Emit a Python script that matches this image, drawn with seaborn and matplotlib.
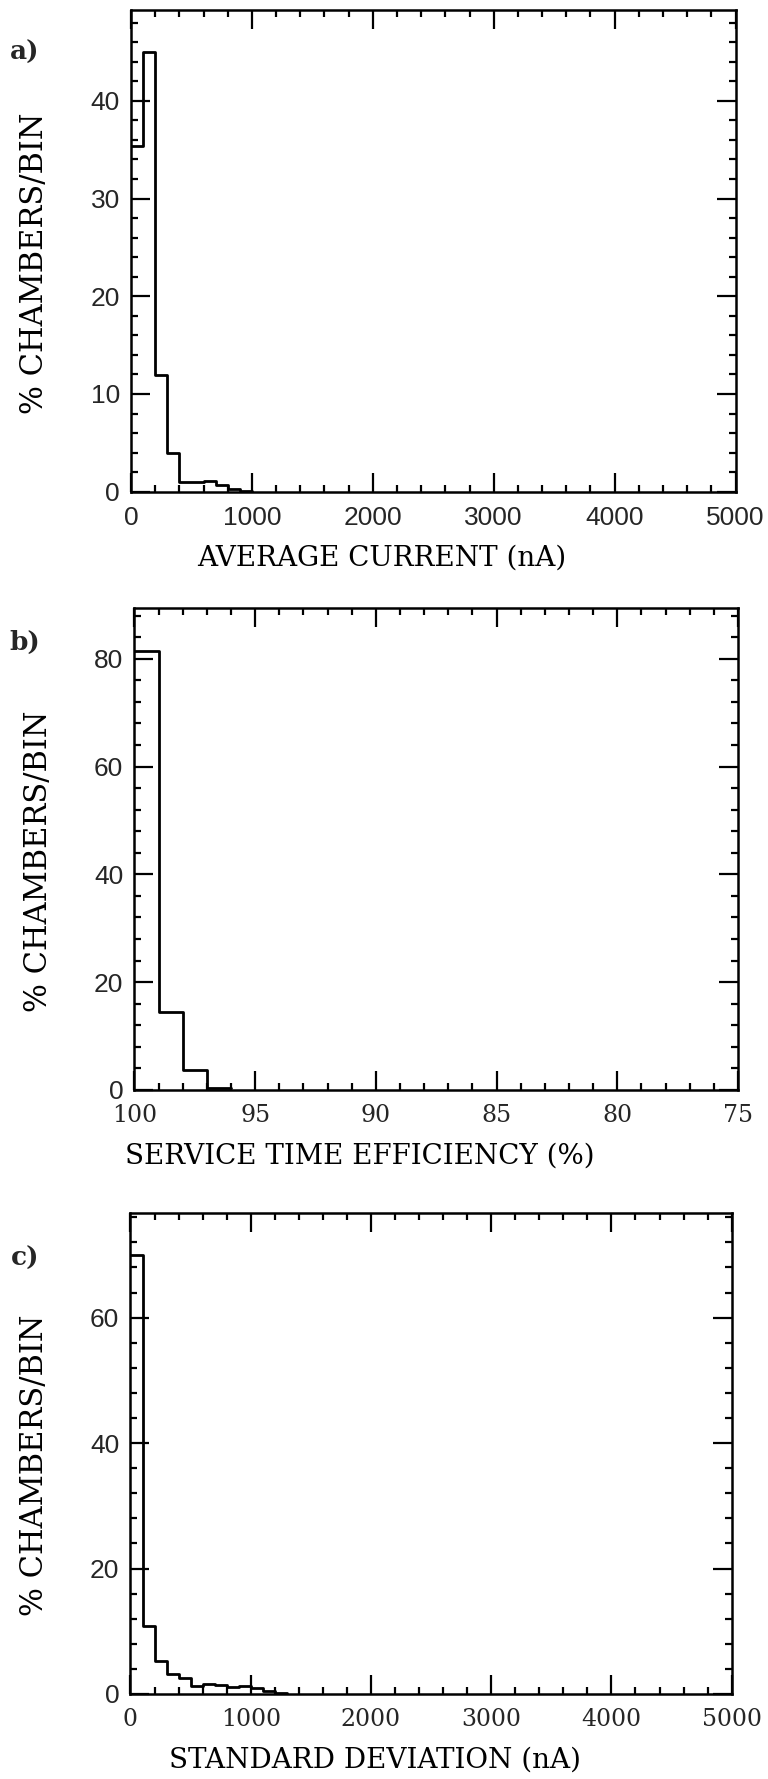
import numpy as np
import matplotlib
matplotlib.use("Agg")
import matplotlib.pyplot as plt
from matplotlib.ticker import MultipleLocator
import seaborn as sns

# a) average current per chamber, 100 nA bins
current_edges = [0, 100, 200, 300, 400, 500, 600, 700, 800, 900, 1000]
current_pct = [35.4, 45.0, 11.9, 4.0, 0.95, 0.95, 1.1, 0.65, 0.28, 0.1]

# b) service time efficiency, 1 % bins
eff_edges = [96, 97, 98, 99, 100]
eff_pct = [0.3, 3.7, 14.5, 81.5]

# c) standard deviation of the current, 100 nA bins
sd_edges = [0, 100, 200, 300, 400, 500, 600, 700, 800, 900, 1000, 1100, 1200, 1300]
sd_pct = [70.0, 10.9, 5.2, 3.2, 2.6, 1.2, 1.6, 1.35, 1.1, 1.3, 0.9, 0.4, 0.1]

sns.set_style("ticks")
SERIF = ["DejaVu Serif"]
SANS = ["Liberation Sans", "DejaVu Sans"]
plt.rcParams["font.family"] = SANS

fig = plt.figure(figsize=(7.68, 17.79), dpi=100)

panels = [
    # edges, values, rect, xlim, ylim, xmaj, xmin, ymaj, ymin, xlabel, tag,
    # xtick font, xtick size, xlabel x, tag y (px from top)
    (current_edges, current_pct, [0.1706, 0.7236, 0.7871, 0.2708], (0, 5000), (0, 49.3),
     1000, 200, 10, 2, "AVERAGE CURRENT (nA)", "a)", SANS, 19, 0.415, 52),
    (eff_edges, eff_pct, [0.1751, 0.3873, 0.7858, 0.2709], (100, 75), (0, 89.4),
     5, 1, 20, 4, "SERVICE TIME EFFICIENCY (%)", "b)", SERIF, 17, 0.374, 642),
    (sd_edges, sd_pct, [0.1699, 0.0478, 0.7828, 0.2704], (0, 5000), (0, 76.7),
     1000, 200, 20, 4, "STANDARD DEVIATION (nA)", "c)", SERIF, 17, 0.407, 1258),
]

for (edges, vals, rect, xlim, ylim, xmaj, xmin, ymaj, ymin,
     xlabel, tag, xfont, xsize, xlab_x, tag_y) in panels:
    ax = fig.add_axes(rect)
    centers = [(edges[i] + edges[i + 1]) / 2 for i in range(len(vals))]
    sns.histplot(x=centers, weights=vals, bins=edges, element="step",
                 fill=False, color="black", linewidth=2.0, ax=ax)
    ax.set_xlim(*xlim)
    ax.set_ylim(*ylim)
    ax.xaxis.set_major_locator(MultipleLocator(xmaj))
    ax.xaxis.set_minor_locator(MultipleLocator(xmin))
    ax.yaxis.set_major_locator(MultipleLocator(ymaj))
    ax.yaxis.set_minor_locator(MultipleLocator(ymin))
    ax.tick_params(which="both", direction="in", top=True, right=True,
                   color="black", width=1.6)
    ax.tick_params(which="major", length=14, pad=8)
    ax.tick_params(which="minor", length=5)
    ax.tick_params(axis="y", which="major", labelsize=19)
    ax.tick_params(axis="x", which="major", labelsize=xsize, pad=10)
    for lab in ax.get_xticklabels():
        lab.set_family(xfont)
    for sp in ax.spines.values():
        sp.set_linewidth(1.8)
        sp.set_color("black")
    ax.set_xlabel(xlabel, fontsize=20, family=SERIF, color="black")
    ax.xaxis.set_label_coords(xlab_x, -0.11)
    ax.set_ylabel("% CHAMBERS/BIN", fontsize=22, family=SERIF, color="black")
    ax.yaxis.set_label_coords(-0.134, 0.475)
    fig.text(25 / 768, 1 - tag_y / 1779, tag, fontsize=19, family=SERIF,
             fontweight="bold", ha="center", va="center")

fig.savefig("out.png", dpi=100, facecolor="white")
